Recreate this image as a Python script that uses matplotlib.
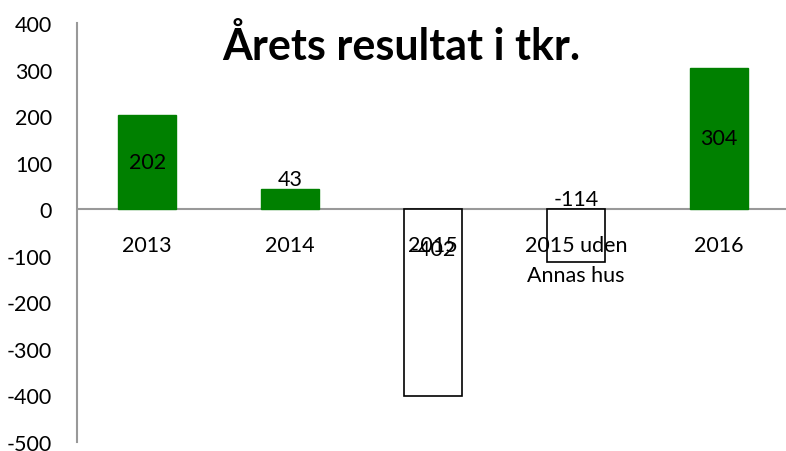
import matplotlib
matplotlib.use("Agg")
import matplotlib.pyplot as plt

categories = ["2013", "2014", "2015", "2015 uden\nAnnas hus", "2016"]
values = [202, 43, -402, -114, 304]
label_texts = ["202", "43", "-402", "-114", "304"]
green_bar = [True, True, False, False, True]

plt.rcParams["font.family"] = ["Lato", "DejaVu Sans"]
plt.rcParams["axes.unicode_minus"] = False

fig = plt.figure(figsize=(7.86, 4.52), dpi=100)
ax = fig.add_axes([77 / 786, (452 - 443) / 452, 709 / 786, (443 - 24) / 452])

for i, (v, g) in enumerate(zip(values, green_bar)):
    if g:
        ax.bar(i, v, width=0.4, color="#008000", edgecolor="#008000", zorder=2)
    else:
        ax.bar(i, v, width=0.4, color="white", edgecolor="black", linewidth=1.2, zorder=2)

# data labels, placed like the original
label_y = [v / 2 if v > 100 else v for v in values]
label_y[1] = values[1] + 22
label_y[2] = -86
label_y[3] = 22
for i, t in enumerate(label_texts):
    ax.text(i, label_y[i], t, ha="center", va="center", fontsize=15.5, zorder=3)

# category labels under the zero line
for i, c in enumerate(categories):
    ax.text(i, -56, c, ha="center", va="top", fontsize=15.5, linespacing=1.6, zorder=3)

ax.axhline(0, color="#999999", linewidth=1.5, zorder=1)
ax.set_xlim(-0.49, 4.468)
ax.set_ylim(-500, 400)
ax.set_yticks(range(-500, 401, 100))
ax.tick_params(axis="y", length=0, labelsize=15.5, pad=18)
ax.set_xticks([])
for s in ["top", "right", "bottom"]:
    ax.spines[s].set_visible(False)
ax.spines["left"].set_color("#999999")
ax.spines["left"].set_linewidth(1.5)

fig.text(401 / 786, 1 - 46 / 452, "Årets resultat i tkr.", ha="center", va="center",
         fontsize=31, fontweight="bold")

fig.savefig("out.png", dpi=100)
